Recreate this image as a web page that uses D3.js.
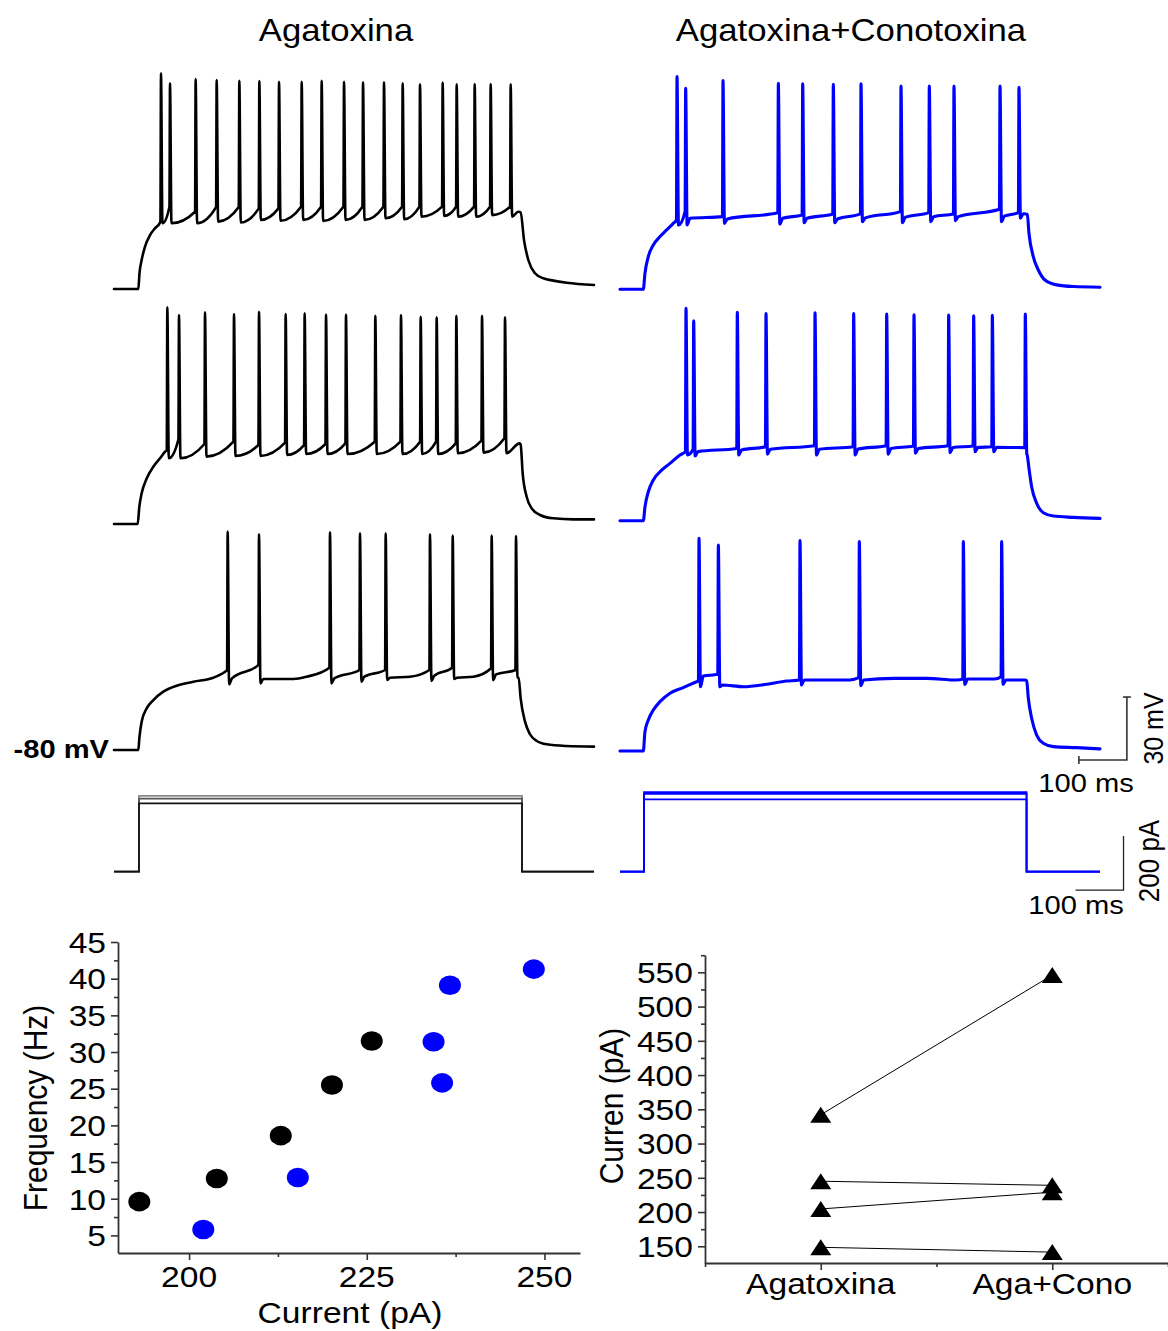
<!DOCTYPE html>
<html>
<head>
<meta charset="utf-8">
<script src="https://cdn.jsdelivr.net/npm/d3@7/dist/d3.min.js"></script>
<style>
html,body{margin:0;padding:0;background:#fff;}
svg{display:block;}
</style>
</head>
<body>
<svg id="chart" width="1168" height="1331"></svg>
<script>
// ======================= DATA =======================
const columnTitles = ["Agatoxina", "Agatoxina+Conotoxina"];
const restLabel = "-80 mV";

// Voltage traces. Envelope key points: [time ms, mV]
// Spikes: [time ms, peak mV, pre-spike mV, AHP trough mV, recovered level mV (or null)]
const agaTrace1Env = [[0,-80],[50.7,-80],[53.1,-72.5],[57.6,-66.2],[64.6,-59.8],[75,-54.3],[85.4,-51.1],[95.8,-48.4],
  [842,-43.2],[847.2,-43.4],[854.2,-56.7],[863.2,-66.2],[877.1,-72.5],[894.4,-74.9],[915.3,-76.0],[943.1,-77.0],[1000,-78.1]];
const agaTrace1Spikes = [
  [97.9,22.7,-47.9,-48.7,null],[116.7,17.9,-40.8,-48.7,null],[170.1,20.0,-43.2,-48.7,null],[213.9,19.5,-41.0,-47.9,null],
  [261.1,19.2,-41.0,-48.3,null],[302.8,19.0,-41.6,-47.1,null],[343.8,18.7,-41.6,-47.5,null],[391.0,18.7,-40.8,-47.1,null],
  [432.6,19.2,-40.8,-47.6,null],[479.2,18.7,-40.8,-47.1,null],[518.8,18.4,-40.8,-47.1,null],[562.5,18.4,-40.8,-46.3,null],
  [601.4,17.9,-40.8,-46.8,null],[637.5,17.5,-40.8,-45.6,null],[684.7,18.3,-40.8,-45.2,null],[713.9,17.5,-40.8,-45.6,null],
  [751.4,17.6,-40.8,-45.6,null],[784.7,17.6,-40.8,-44.8,null],[826.4,17.5,-40.8,-45.6,null]];

const agaTrace2Env = [[0,-80],[49.3,-80],[52.8,-71.7],[57.6,-65.4],[68.1,-58.3],[81.9,-52.7],[95.8,-48.7],[106.3,-45.6],
  [845,-41.6],[847.2,-42.2],[851.4,-55.9],[859.7,-67.0],[870.1,-72.5],[887.5,-75.7],[915.3,-77.3],[956.9,-77.8],[1000,-77.8]];
const agaTrace2Spikes = [
  [111.1,23.2,-44.8,-48.7,null],[135.4,19.5,-39.7,-48.7,null],[189.6,20.8,-41.9,-47.9,null],[250.0,20.0,-40.8,-47.6,null],
  [302.1,21.1,-42.4,-47.6,null],[357.6,20.0,-41.3,-47.1,null],[397.2,20.3,-42.4,-46.7,null],[441.7,19.7,-41.9,-46.7,null],
  [483.3,19.7,-41.6,-46.7,null],[544.4,19.2,-40.8,-46.7,null],[597.9,19.5,-40.8,-46.7,null],[638.9,18.7,-40.8,-46.7,null],
  [672.2,18.4,-40.8,-46.7,null],[713.2,19.2,-41.6,-46.3,null],[766.7,19.2,-40.3,-46.0,null],[814.6,18.4,-39.2,-46.3,null]];

const agaTrace3Env = [[0,-80],[50.7,-80],[52.8,-74.4],[57.6,-66.5],[68,-60.2],[82,-56.2],[102.8,-52.2],[130.5,-49.4],
  [165.3,-47.5],[206.9,-45.6],[231.3,-42.7],
  [373.6,-46.2],[401.4,-45.1],[616.7,-45.1],[748.6,-45.1],
  [843,-45.5],[847.2,-55.4],[856.3,-66.5],[866.7,-72.5],[880.6,-75.7],[901.4,-77.3],[943,-78.1],[1000,-78.4]];
const agaTrace3Spikes = [
  [236.8,24.0,-41.9,-48.7,-45.9],[302.1,22.7,-39.5,-48.3,-46.2],[450.0,23.7,-40.8,-48.3,-45.9],[512.5,23.2,-41.9,-47.5,-45.1],
  [566.0,23.2,-41.9,-46.7,-45.6],[658.3,22.7,-41.9,-47.1,-44.6],[705.6,22.1,-40.8,-46.2,-45.6],[786.8,22.1,-41.1,-46.7,-44.0],
  [837.5,21.9,-41.9,-45.5,null]];

const conoTrace1Env = [[0,-80],[48.6,-80],[52,-72.4],[59,-64.4],[69.4,-58.9],[83.3,-54.9],[97.2,-51.7],[111,-48.6],
  [843.8,-44.1],[848.6,-44.3],[852,-53.3],[861,-64.4],[871.5,-70.8],[885.4,-75.6],[909.7,-77.9],[944.4,-78.7],[1000,-79.0]];
const conoTrace1Spikes = [
  [118.8,21.3,-47.0,-49.4,null],[136.8,15.7,-43.0,-49.4,-46.2],[214.6,19.4,-45.4,-48.6,-46.5],[329.9,18.1,-43.6,-48.9,-46.2],
  [380.6,17.8,-44.6,-48.3,-46.2],[444.4,17.6,-44.1,-48.3,-46.5],[502.1,17.8,-44.1,-47.8,-46.0],[585.4,16.8,-43.0,-48.3,-45.7],
  [644.4,16.8,-43.5,-47.8,-45.4],[695.8,16.8,-44.1,-47.3,-45.4],[791.7,16.8,-41.9,-47.8,-45.2],[831.2,16.2,-43.5,-46.2,-44.0]];

const conoTrace2Env = [[0,-80],[48.6,-80],[52.1,-73.3],[59,-66.2],[69.4,-60.6],[86.8,-55.9],[104.2,-52.7],[125,-48.7],
  [848.6,-49],[852,-55],[857.6,-63.8],[868,-71.7],[882,-76.2],[902.8,-77.8],[944.4,-78.4],[1000,-78.9]];
const conoTrace2Spikes = [
  [137.5,21.1,-47.1,-48.7,null],[153.5,15.2,-46.0,-49.2,-47.1],[244.4,19.2,-45.6,-48.7,-46.3],[304.2,18.7,-44.8,-48.3,-46.0],
  [406.3,19.0,-44.3,-48.7,-46.0],[486.8,18.7,-44.8,-48.7,-45.9],[555.6,18.4,-44.3,-48.3,-45.6],[612.5,18.1,-44.4,-47.9,-45.6],
  [684.7,17.9,-44.3,-47.6,-45.1],[736.8,17.6,-44.4,-47.1,-45.1],[775.7,17.8,-44.8,-47.1,-45.1],[844.4,18.4,-45.2,-48.0,null]];

const conoTrace3Env = [[0,-80],[48.6,-80],[52,-70.8],[59,-65.2],[69.4,-60.5],[83.3,-56.5],[104.2,-52.5],[131.9,-49.8],[159.7,-47.0],
  [256.9,-49.4],[305.6,-48.2],[347.2,-46.7],[479.2,-46.2],[569.4,-45.4],[638.9,-45.4],[701.4,-46.2],[780,-45.7],
  [843.8,-46.2],[847.2,-46.5],[850.7,-54.9],[857.6,-64.4],[868,-72.4],[881.9,-76.3],[902.8,-77.9],[951.4,-78.4],[1000,-79.0]];
const conoTrace3Spikes = [
  [164.6,21.3,-46.7,-49.4,-44.3],[204.9,18.1,-43.5,-49.4,-48.6],[375.0,20.2,-46.2,-48.6,-46.2],
  [498.6,19.7,-45.1,-48.9,-46.2],[715.3,19.7,-45.7,-48.3,-45.7],[795.1,19.7,-44.6,-48.3,-46.2]];

// Current steps (pA) and step times (ms)
const agaStepLevels = [281, 271, 253];
const conoStepLevels = [295, 288, 268];
const agaStepTimes = [52, 850];
const conoStepTimes = [50, 847];

// Scale bars
const scaleBarMs = 100, scaleBarMv = 30, scaleBarPa = 200;

// Frequency vs current
const freqAgaCurrent = [193.0, 203.9, 212.9, 220.1, 225.7];
const freqAgaHz      = [9.6, 12.75, 18.6, 25.5, 31.5];
const freqConoCurrent = [202.0, 215.3, 234.4, 235.6, 236.7, 248.5];
const freqConoHz      = [5.8, 12.9, 31.4, 25.8, 39.1, 41.3];
const freqYTicks = [5,10,15,20,25,30,35,40,45];
const freqXTicks = [200,225,250];

// Paired current plot
const conditions = ["Agatoxina", "Aga+Cono"];
const pairedAga  = [342, 245, 204.5, 148.5];
const pairedCono = [546, 239, 229, 141.5];
const pairedYTicks = [150,200,250,300,350,400,450,500,550];

// ======================= DRAWING =======================
const SX = 1.12;
const FONT = "'Liberation Sans', Arial, Helvetica, sans-serif";
const svg = d3.select("#chart").attr("font-family", FONT);
const BLUE = "#0000ff";

function label(str, x, y, o) {
  o = o || {};
  return svg.append("text")
    .attr("transform", `translate(${x},${y}) scale(${SX},1)` + (o.rotate ? " rotate(-90)" : ""))
    .attr("text-anchor", o.anchor || "middle")
    .attr("font-size", o.size || 30)
    .attr("font-weight", o.weight || "normal")
    .attr("fill", "#000")
    .text(str);
}

function buildTrace(env, spikes) {
  const pts = env.map(d => [d[0], d[1]]);
  spikes.forEach((s, i) => {
    const [t, pk, pre, ahp, rec] = s;
    pts.push([t - 1.2, pre], [t, pk], [t + 3, ahp]);
    const next = spikes[i + 1];
    if (rec != null && (!next || next[0] - 1.2 > t + 9)) pts.push([t + 9, rec]);
  });
  return pts.sort((a, b) => a[0] - b[0]);
}

// Layout of the trace panels
const panels = [
  {env: agaTrace1Env,  spikes: agaTrace1Spikes,  x0: 114, base: 289,   color: "#000", w: 2.6},
  {env: agaTrace2Env,  spikes: agaTrace2Spikes,  x0: 114, base: 524,   color: "#000", w: 2.6},
  {env: agaTrace3Env,  spikes: agaTrace3Spikes,  x0: 114, base: 750,   color: "#000", w: 2.6},
  {env: conoTrace1Env, spikes: conoTrace1Spikes, x0: 620, base: 289.3, color: BLUE,   w: 3.1},
  {env: conoTrace2Env, spikes: conoTrace2Spikes, x0: 620, base: 520.7, color: BLUE,   w: 3.1},
  {env: conoTrace3Env, spikes: conoTrace3Spikes, x0: 620, base: 751,   color: BLUE,   w: 3.1}
];
let lastX, lastY;
panels.forEach(p => {
  const x = d3.scaleLinear().domain([0, 1000]).range([p.x0, p.x0 + 480]);
  const y = d3.scaleLinear().domain([-80, -50]).range([p.base, p.base - 63]);
  const line = d3.line().x(d => x(d[0])).y(d => y(d[1])).curve(d3.curveMonotoneX);
  svg.append("path").datum(buildTrace(p.env, p.spikes))
    .attr("d", line).attr("fill", "none").attr("stroke", p.color)
    .attr("stroke-width", p.w).attr("stroke-linejoin", "round").attr("stroke-linecap", "round");
  lastX = x; lastY = y;
});

// Titles and rest label
label(columnTitles[0], 336, 41, {size: 31});
label(columnTitles[1], 851, 41, {size: 31});
label(restLabel, 109, 758, {size: 26, weight: "bold", anchor: "end"});

// Voltage scale bar (drawn in the coordinates of the last blue panel)
{
  const x = lastX, y = lastY;
  const t1 = 1056, t0 = t1 - scaleBarMs, v0 = -84.3, v1 = v0 + scaleBarMv;
  const g = svg.append("g").attr("stroke", "#333").attr("stroke-width", 1.6).attr("fill", "none");
  g.append("path").attr("d", `M${x(t0)},${y(v0)}H${x(t1)}V${y(v1)}`);
  g.append("path").attr("d", `M${x(t1) - 4},${y(v1)}H${x(t1) + 4}`);
  g.append("path").attr("d", `M${x(t0)},${y(v0) - 4}V${y(v0) + 4}`);
  label("100 ms", 1086, 792, {size: 26});
  label("30 mV", 1163, 728.5, {size: 25, rotate: true});
}

// Current steps
{
  const yI = d3.scaleLinear().domain([0, 200]).range([871.7, 817.7]);
  const xL = d3.scaleLinear().domain([0, 1000]).range([114, 594]);
  const xR = d3.scaleLinear().domain([0, 1000]).range([620, 1100]);
  const stepLine = d3.line().x(d => d[0]).y(d => d[1]);
  const greys = ["#8a8a8a", "#555", "#111"];
  agaStepLevels.forEach((lv, i) => {
    const [on, off] = agaStepTimes;
    const pts = [[0, 0], [on, 0], [on, lv], [off, lv], [off, 0], [1000, 0]].map(d => [xL(d[0]), yI(d[1])]);
    svg.append("path").attr("d", stepLine(pts)).attr("fill", "none").attr("stroke", greys[i]).attr("stroke-width", 1.7);
  });
  conoStepLevels.forEach((lv) => {
    const [on, off] = conoStepTimes;
    const pts = [[0, 0], [on, 0], [on, lv], [off, lv], [off, 0], [1000, 0]].map(d => [xR(d[0]), yI(d[1])]);
    svg.append("path").attr("d", stepLine(pts)).attr("fill", "none").attr("stroke", BLUE).attr("stroke-width", 1.7);
  });
  // current scale bar
  const t1 = 1049, t0 = t1 - scaleBarMs, i0 = -68, i1 = i0 + scaleBarPa;
  svg.append("path").attr("d", `M${xR(t0)},${yI(i0)}H${xR(t1)}V${yI(i1)}`)
    .attr("fill", "none").attr("stroke", "#222").attr("stroke-width", 1.3);
  label("100 ms", 1076, 914, {size: 26});
  label("200 pA", 1159, 861, {size: 26, rotate: true});
}

function styleAxis(g, removeDomain) {
  g.selectAll("path.domain").attr("stroke", "#333").attr("stroke-width", 1.8);
  g.selectAll("line").attr("stroke", "#333").attr("stroke-width", 1.6);
  g.selectAll("text").remove();
  if (removeDomain) g.selectAll("path.domain").remove();
}

// ---------- Frequency vs Current ----------
{
  const x = d3.scaleLinear().domain([190, 255]).range([118, 580]);
  const y = d3.scaleLinear().domain([2.6, 45]).range([1253, 942]);
  const g = svg.append("g");
  styleAxis(g.append("g").attr("transform", "translate(0,1253)")
    .call(d3.axisBottom(x).tickValues(freqXTicks).tickSize(7).tickSizeOuter(0)));
  styleAxis(g.append("g").attr("transform", "translate(0,1253)")
    .call(d3.axisBottom(x).tickValues([212.5, 237.5]).tickSize(4).tickSizeOuter(0)), true);
  styleAxis(g.append("g").attr("transform", "translate(118,0)")
    .call(d3.axisLeft(y).tickValues(freqYTicks).tickSize(7).tickSizeOuter(0)));
  styleAxis(g.append("g").attr("transform", "translate(118,0)")
    .call(d3.axisLeft(y).tickValues(d3.range(7.5, 45, 5)).tickSize(4).tickSizeOuter(0)), true);

  freqYTicks.forEach(v => label(String(v), 106, y(v) + 10.8, {anchor: "end"}));
  freqXTicks.forEach(v => label(String(v), x(v), 1287));
  label("Frequency (Hz)", 47, 1108, {rotate: true});
  label("Current (pA)", 350, 1323);

  g.selectAll("ellipse.aga").data(freqAgaCurrent.map((c, i) => [c, freqAgaHz[i]])).join("ellipse")
    .attr("cx", d => x(d[0])).attr("cy", d => y(d[1])).attr("rx", 11).attr("ry", 9.8).attr("fill", "#000");
  g.selectAll("ellipse.cono").data(freqConoCurrent.map((c, i) => [c, freqConoHz[i]])).join("ellipse")
    .attr("cx", d => x(d[0])).attr("cy", d => y(d[1])).attr("rx", 11).attr("ry", 9.8).attr("fill", BLUE);
}

// ---------- Paired current plot ----------
{
  const x = d3.scaleLinear().domain([0.5, 2.5]).range([705, 1168]);
  const y = d3.scaleLinear().domain([125.6, 575.3]).range([1263, 955]);
  const g = svg.append("g");
  styleAxis(g.append("g").attr("transform", "translate(0,1263)")
    .call(d3.axisBottom(x).tickValues([1, 2]).tickSize(7).tickSizeOuter(0)));
  styleAxis(g.append("g").attr("transform", "translate(0,1263)")
    .call(d3.axisBottom(x).tickValues([0.5, 1.5, 2.5]).tickSize(4).tickSizeOuter(0)), true);
  styleAxis(g.append("g").attr("transform", "translate(705,0)")
    .call(d3.axisLeft(y).tickValues(pairedYTicks).tickSize(7).tickSizeOuter(0)));
  styleAxis(g.append("g").attr("transform", "translate(705,0)")
    .call(d3.axisLeft(y).tickValues(d3.range(175, 576, 50)).tickSize(4).tickSizeOuter(0)), true);

  pairedYTicks.forEach(v => label(String(v), 693, y(v) + 10.8, {anchor: "end"}));
  conditions.forEach((c, i) => label(c, x(i + 1), 1294));
  label("Curren (pA)", 623, 1106, {rotate: true});

  const pairs = pairedAga.map((a, i) => [a, pairedCono[i]]);
  g.selectAll("line.pair").data(pairs).join("line")
    .attr("x1", x(1)).attr("x2", x(2)).attr("y1", d => y(d[0])).attr("y2", d => y(d[1]))
    .attr("stroke", "#000").attr("stroke-width", 1);
  const tw = 21, th = 16;
  const tri = (cx, cy) => `M${cx},${cy - th / 2}L${cx + tw / 2},${cy + th / 2}L${cx - tw / 2},${cy + th / 2}Z`;
  pairs.forEach(d => {
    g.append("path").attr("d", tri(x(1), y(d[0]))).attr("fill", "#000");
    g.append("path").attr("d", tri(x(2), y(d[1]))).attr("fill", "#000");
  });
}
</script>
</body>
</html>
